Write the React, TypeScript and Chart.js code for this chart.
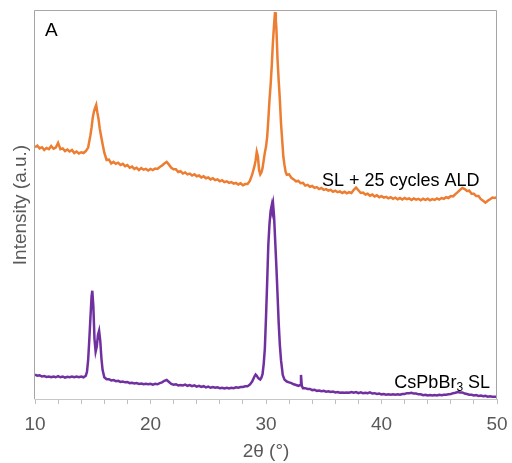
import React, { useEffect, useRef } from "react";
import { Chart, registerables } from "chart.js";

Chart.register(...registerables);

// 2θ positions (degrees) and intensities (a.u.) for the ALD-coated sample (orange)
const orangeX = [
  10.0, 10.2, 10.4, 10.6, 10.8, 11.0, 11.2, 11.4, 11.6, 11.8, 12.0, 12.2, 12.4, 12.6, 12.8, 13.0, 13.2, 13.4, 13.6, 13.8,
  14.0, 14.2, 14.4, 14.6, 14.8, 14.9, 15.0, 15.1, 15.2, 15.3, 15.4, 15.5, 15.6, 15.8, 16.0, 16.2, 16.4, 16.6, 16.8, 17.0,
  17.2, 17.4, 17.6, 17.8, 18.0, 18.2, 18.4, 18.6, 18.8, 19.0, 19.2, 19.4, 19.6, 19.8, 20.0, 20.2, 20.4, 20.6, 20.8, 21.0,
  21.2, 21.4, 21.6, 21.8, 22.0, 22.2, 22.4, 22.6, 22.8, 23.0, 23.2, 23.4, 23.6, 23.8, 24.0, 24.2, 24.4, 24.6, 24.8, 25.0,
  25.2, 25.4, 25.6, 25.8, 26.0, 26.2, 26.4, 26.6, 26.8, 27.0, 27.2, 27.4, 27.6, 27.8, 28.0, 28.2, 28.4, 28.6, 28.8, 29.0,
  29.1, 29.2, 29.3, 29.4, 29.5, 29.6, 29.7, 29.8, 29.9, 30.0, 30.1, 30.2, 30.3, 30.4, 30.5, 30.6, 30.7, 30.78, 30.85, 30.9,
  31.0, 31.1, 31.2, 31.3, 31.4, 31.5, 31.6, 31.7, 31.8, 32.0, 32.2, 32.4, 32.6, 32.8, 33.0, 33.2, 33.4, 33.6, 33.8, 34.0,
  34.2, 34.4, 34.6, 34.8, 35.0, 35.2, 35.4, 35.6, 35.8, 36.0, 36.2, 36.4, 36.6, 36.8, 37.0, 37.2, 37.4, 37.6, 37.8, 38.0,
  38.2, 38.4, 38.6, 38.8, 39.0, 39.2, 39.4, 39.6, 39.8, 40.0, 40.2, 40.4, 40.6, 40.8, 41.0, 41.2, 41.4, 41.6, 41.8, 42.0,
  42.2, 42.4, 42.6, 42.8, 43.0, 43.2, 43.4, 43.6, 43.8, 44.0, 44.2, 44.4, 44.6, 44.8, 45.0, 45.2, 45.4, 45.6, 45.8, 46.0,
  46.2, 46.4, 46.6, 46.8, 47.0, 47.2, 47.4, 47.6, 47.8, 48.0, 48.2, 48.4, 48.6, 48.8, 49.0, 49.2, 49.4, 49.6, 49.8, 50.0,
];
const orangeY = [
  64.9, 65.3, 64.6, 64.9, 64.2, 64.7, 64.4, 65.2, 64.5, 64.8, 66.0, 64.4, 64.6, 63.9, 64.3, 63.8, 64.2, 63.4, 63.8, 63.3,
  63.6, 63.4, 63.9, 64.8, 68.0, 70.0, 72.5, 74.0, 75.0, 75.8, 73.8, 72.2, 69.8, 66.5, 63.5, 61.6, 61.7, 60.7, 61.1, 60.6,
  60.9, 60.3, 60.6, 60.0, 60.3, 59.6, 59.9, 59.3, 59.6, 59.0, 59.5, 59.1, 59.3, 58.9, 59.3, 59.0, 59.4, 59.3, 59.8, 60.2,
  60.7, 61.1, 60.4, 59.6, 59.2, 59.2, 58.5, 58.7, 58.1, 58.4, 57.9, 58.1, 57.6, 57.9, 57.4, 57.6, 57.1, 57.4, 56.9, 57.1,
  56.6, 56.9, 56.4, 56.6, 56.1, 56.4, 55.9, 56.1, 55.7, 55.9, 55.5, 55.7, 55.3, 55.6, 55.1, 55.4, 55.4, 56.2, 57.8, 60.0,
  61.5, 63.7, 62.5, 59.0, 57.9, 58.4, 59.5, 61.5, 63.5, 65.0, 67.5, 71.9, 77.0, 81.0, 86.0, 92.0, 96.5, 99.7, 97.5, 95.5,
  87.4, 82.0, 77.1, 71.0, 66.8, 62.5, 60.3, 58.5, 57.8, 57.9, 57.0, 56.6, 56.1, 56.2, 55.6, 55.7, 55.0, 55.2, 54.7, 54.9,
  54.4, 54.6, 54.1, 54.4, 53.9, 54.1, 53.7, 53.9, 53.4, 53.7, 53.3, 53.5, 53.1, 53.4, 53.0, 53.3, 53.1, 53.9, 54.5, 53.8,
  53.1, 53.2, 52.7, 52.9, 52.4, 52.7, 52.2, 52.5, 52.0, 52.3, 51.9, 52.1, 51.7, 52.0, 51.6, 51.9, 51.5, 51.8, 51.4, 51.8,
  51.5, 51.7, 51.3, 51.7, 51.4, 51.6, 51.2, 51.6, 51.3, 51.6, 51.2, 51.5, 51.3, 51.7, 51.4, 51.8, 51.6, 52.0, 51.8, 52.3,
  52.2, 52.8, 53.3, 53.9, 54.4, 54.1, 53.6, 53.7, 52.9, 52.9, 52.3, 52.3, 51.5, 51.1, 50.6, 51.1, 51.5, 51.9, 51.8, 52.0,
];

// 2θ positions (degrees) and intensities (a.u.) for the bare CsPbBr3 superlattice (purple)
const purpleX = [
  10.0, 10.2, 10.4, 10.6, 10.8, 11.0, 11.2, 11.4, 11.6, 11.8, 12.0, 12.2, 12.4, 12.6, 12.8, 13.0, 13.2, 13.4, 13.6, 13.8,
  14.0, 14.2, 14.4, 14.5, 14.6, 14.7, 14.8, 14.9, 14.96, 15.05, 15.15, 15.25, 15.35, 15.45, 15.55, 15.65, 15.75, 15.85, 16.0, 16.2,
  16.4, 16.6, 16.8, 17.0, 17.2, 17.4, 17.6, 17.8, 18.0, 18.2, 18.4, 18.6, 18.8, 19.0, 19.2, 19.4, 19.6, 19.8, 20.0, 20.2,
  20.4, 20.6, 20.8, 21.0, 21.2, 21.4, 21.6, 21.8, 22.0, 22.2, 22.4, 22.6, 22.8, 23.0, 23.2, 23.4, 23.6, 23.8, 24.0, 24.2,
  24.4, 24.6, 24.8, 25.0, 25.2, 25.4, 25.6, 25.8, 26.0, 26.2, 26.4, 26.6, 26.8, 27.0, 27.2, 27.4, 27.6, 27.8, 28.0, 28.2,
  28.4, 28.6, 28.8, 29.0, 29.1, 29.2, 29.3, 29.4, 29.5, 29.6, 29.7, 29.8, 29.9, 30.0, 30.1, 30.2, 30.3, 30.4, 30.5, 30.55,
  30.62, 30.7, 30.8, 30.9, 31.0, 31.1, 31.2, 31.3, 31.45, 31.6, 31.8, 32.0, 32.2, 32.4, 32.6, 32.8, 32.95, 33.03, 33.1, 33.2,
  33.4, 33.6, 33.8, 34.0, 34.2, 34.4, 34.6, 34.8, 35.0, 35.2, 35.4, 35.6, 35.8, 36.0, 36.2, 36.4, 36.6, 36.8, 37.0, 37.2,
  37.4, 37.6, 37.8, 38.0, 38.2, 38.4, 38.6, 38.8, 39.0, 39.2, 39.4, 39.6, 39.8, 40.0, 40.2, 40.4, 40.6, 40.8, 41.0, 41.2,
  41.4, 41.6, 41.8, 42.0, 42.2, 42.4, 42.6, 42.8, 43.0, 43.2, 43.4, 43.6, 43.8, 44.0, 44.2, 44.4, 44.6, 44.8, 45.0, 45.2,
  45.4, 45.6, 45.8, 46.0, 46.2, 46.4, 46.6, 46.8, 47.0, 47.2, 47.4, 47.6, 47.8, 48.0, 48.2, 48.4, 48.6, 48.8, 49.0, 49.2,
  49.4, 49.6, 49.8, 50.0,
];
const purpleY = [
  6.3, 6.0, 6.1, 5.8, 5.9, 5.7, 5.8, 5.6, 5.8, 5.6, 5.9, 5.6, 5.8, 5.5, 5.7, 5.6, 5.8, 5.6, 5.8, 5.6,
  5.8, 5.6, 6.0, 7.0, 10.0, 15.2, 21.0, 26.5, 27.9, 24.0, 15.5, 12.2, 13.5, 16.5, 17.6, 15.0, 10.5, 7.5, 5.6, 5.1,
  5.1, 4.8, 4.9, 4.6, 4.7, 4.4, 4.5, 4.3, 4.4, 4.1, 4.2, 4.0, 4.1, 3.9, 4.0, 3.8, 3.9, 3.8, 3.9, 3.7,
  3.9, 3.8, 4.1, 4.3, 4.7, 4.9, 4.4, 3.9, 3.7, 3.8, 3.5, 3.6, 3.5, 3.7, 3.4, 3.6, 3.3, 3.5, 3.2, 3.4,
  3.1, 3.3, 3.0, 3.2, 2.9, 3.1, 2.9, 3.0, 2.8, 2.9, 2.7, 2.9, 2.7, 2.9, 2.8, 3.0, 2.9, 3.1, 3.1, 3.3,
  3.3, 3.7, 4.5, 5.8, 6.3, 6.0, 5.5, 5.2, 5.0, 5.5, 6.4, 9.0, 13.0, 21.0, 30.0, 39.7, 45.0, 48.5, 50.0, 48.6,
  50.0, 47.0, 40.5, 34.0, 26.8, 19.5, 13.9, 10.0, 6.2, 5.0, 4.5, 4.3, 4.1, 3.8, 3.6, 3.4, 3.6, 6.2, 3.4, 2.8,
  2.8, 2.6, 2.6, 2.3, 2.4, 2.1, 2.2, 2.0, 2.1, 1.9, 2.0, 1.8, 1.9, 1.7, 1.8, 1.6, 1.7, 1.6, 1.7, 1.6,
  1.8, 1.6, 1.8, 1.5, 1.7, 1.5, 1.6, 1.5, 1.7, 1.4, 1.5, 1.3, 1.4, 1.2, 1.3, 1.1, 1.2, 1.1, 1.2, 1.1,
  1.2, 1.1, 1.3, 1.3, 1.5, 1.5, 1.6, 1.4, 1.4, 1.2, 1.2, 1.0, 1.1, 0.9, 1.0, 0.9, 1.0, 0.9, 1.1, 1.0,
  1.1, 1.1, 1.2, 1.3, 1.5, 1.6, 1.8, 1.7, 1.7, 1.4, 1.3, 1.1, 1.1, 0.9, 1.0, 0.8, 0.9, 0.7, 0.8, 0.6,
  0.7, 0.6, 0.6, 0.6,
];

const xTickLabels = [10, 20, 30, 40, 50];
const panelLabel = "A";
const orangeName = "SL + 25 cycles ALD";
const purpleNameMain = "CsPbBr";
const purpleNameSub = "3";
const purpleNameTail = " SL";
// label anchors in data space (2θ, intensity)
const orangeLabelAnchor = [34.85, 56.2];
const purpleLabelAnchor = [49.4, 4.2];

const FONT = "'Liberation Sans', Arial, Helvetica, sans-serif";
const ORANGE = "#ED7D31";
const PURPLE = "#7030A0";
const AXIS_TEXT = "#595959";

const overlayPlugin = {
  id: "overlay",
  afterDatasetsDraw(chart: any) {
    const { ctx, chartArea, scales } = chart;
    const { left, top, right, bottom } = chartArea;
    ctx.save();
    // plot frame
    ctx.strokeStyle = "#A6A6A6";
    ctx.lineWidth = 1;
    ctx.beginPath();
    ctx.moveTo(left - 0.5, bottom);
    ctx.lineTo(left - 0.5, top - 0.5);
    ctx.lineTo(right - 0.5, top - 0.5);
    ctx.lineTo(right - 0.5, bottom);
    ctx.stroke();
    ctx.strokeStyle = "#C8C8C8";
    ctx.beginPath();
    ctx.moveTo(left - 0.5, bottom + 0.5);
    ctx.lineTo(right, bottom + 0.5);
    ctx.stroke();

    // panel letter
    ctx.fillStyle = "#000";
    ctx.font = `19px ${FONT}`;
    ctx.textBaseline = "middle";
    ctx.textAlign = "left";
    ctx.fillText(panelLabel, left + 10, top + 20);

    // series labels
    ctx.font = `18px ${FONT}`;
    const ox = scales.x.getPixelForValue(orangeLabelAnchor[0]);
    const oy = scales.y.getPixelForValue(orangeLabelAnchor[1]);
    ctx.fillText(orangeName, ox, oy);

    const px = scales.x.getPixelForValue(purpleLabelAnchor[0]);
    const py = scales.y.getPixelForValue(purpleLabelAnchor[1]);
    const wMain = ctx.measureText(purpleNameMain).width;
    const wTail = ctx.measureText(purpleNameTail).width;
    ctx.font = `12px ${FONT}`;
    const wSub = ctx.measureText(purpleNameSub).width;
    const startX = px - (wMain + wSub + wTail);
    ctx.font = `18px ${FONT}`;
    ctx.fillText(purpleNameMain, startX, py);
    ctx.font = `12px ${FONT}`;
    ctx.fillText(purpleNameSub, startX + wMain, py + 5);
    ctx.font = `18px ${FONT}`;
    ctx.fillText(purpleNameTail, startX + wMain + wSub, py);
    ctx.restore();
  },
};

export default function App() {
  const canvasRef = useRef<HTMLCanvasElement | null>(null);

  useEffect(() => {
    if (!canvasRef.current) return;
    Chart.defaults.font.family = FONT;
    const chart = new Chart(canvasRef.current, {
      type: "line",
      data: {
        datasets: [
          {
            label: orangeName,
            data: orangeX.map((x, i) => ({ x, y: orangeY[i] })),
            borderColor: ORANGE,
            borderWidth: 2.5,
            pointRadius: 0,
            tension: 0,
            fill: false,
          },
          {
            label: "CsPbBr3 SL",
            data: purpleX.map((x, i) => ({ x, y: purpleY[i] })),
            borderColor: PURPLE,
            borderWidth: 2.5,
            pointRadius: 0,
            tension: 0,
            fill: false,
          },
        ],
      },
      options: {
        animation: false,
        responsive: false,
        maintainAspectRatio: false,
        layout: { padding: { top: 11, right: 15, left: 0, bottom: 0 } },
        plugins: {
          legend: { display: false },
          tooltip: { enabled: false },
        },
        scales: {
          x: {
            type: "linear",
            min: 10,
            max: 50,
            afterFit: (s: any) => {
              s.height = 64;
              s.paddingLeft = 0;
              s.paddingRight = 0;
            },
            ticks: {
              stepSize: 2,
              autoSkip: false,
              maxRotation: 0,
              padding: 9,
              color: AXIS_TEXT,
              font: { size: 19, family: FONT },
              callback: (v: any) => (xTickLabels.includes(Number(v)) ? String(v) : ""),
            },
            grid: {
              display: true,
              drawOnChartArea: false,
              drawTicks: true,
              tickLength: 5,
              color: "#BFBFBF",
            },
            border: { display: false },
            title: {
              display: true,
              text: "2θ (°)",
              color: AXIS_TEXT,
              font: { size: 19, family: FONT },
              padding: { top: 0, bottom: 0 },
            },
          },
          y: {
            type: "linear",
            min: 0,
            max: 100,
            afterFit: (s: any) => {
              s.width = 35;
              s.paddingTop = 0;
              s.paddingBottom = 0;
            },
            ticks: { display: false },
            grid: { display: false },
            border: { display: false },
            title: {
              display: true,
              text: "Intensity (a.u.)",
              color: AXIS_TEXT,
              font: { size: 19, family: FONT },
              padding: { top: 9, bottom: 0 },
            },
          },
        },
      },
      plugins: [overlayPlugin],
    });
    return () => chart.destroy();
  }, []);

  return (
    <div style={{ position: "fixed", left: 0, top: 0, width: 512, height: 463, background: "#fff" }}>
      <canvas ref={canvasRef} width={512} height={463} style={{ display: "block" }} />
    </div>
  );
}
